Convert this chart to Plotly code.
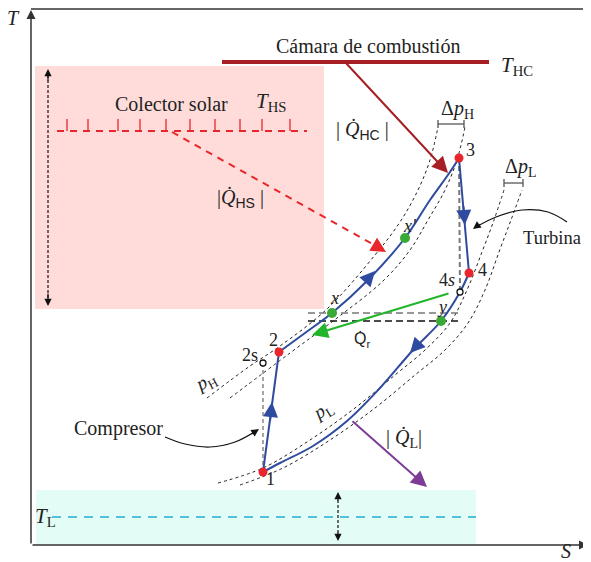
import plotly.graph_objects as go

# ---------------- data (S, T coordinates of the diagram) ----------------
# Brayton cycle branches
S_comp = [263, 279]
T_comp = [90, 210]
S_heat = [279, 305, 332, 368, 405, 430, 450, 459]
T_heat = [210, 229, 249, 282, 324, 362, 390, 404]
S_turb = [459, 469]
T_turb = [404, 289]
S_cool = [469, 460, 441, 413, 380, 347, 313, 280, 263]
T_cool = [289, 270, 241, 212, 174, 141, 116, 99, 90]

# state points
main_names = ["1", "2", "3", "4"]
main_S = [263, 279, 459, 469]
main_T = [90, 210, 404, 289]
regen_names = ["x", "x'", "y"]
regen_S = [332, 405, 441]
regen_T = [249, 324, 241]
iso_names = ["2s", "4s"]
iso_S = [263, 460]
iso_T = [199, 270]

# isobars (p_H band and p_L band)
H1_S = [207, 250, 280, 327, 375, 400, 418, 430, 438]
H1_T = [164, 196, 216, 253, 307, 340, 372, 402, 435]
H2_S = [230, 290, 337, 383, 410, 428, 445, 457, 465]
H2_T = [164, 209, 244, 281, 312, 342, 372, 402, 435]
L1_S = [218, 263, 310, 355, 395, 425, 450, 467, 482, 494, 504]
L1_T = [79, 94, 122, 154, 187, 212, 239, 272, 310, 342, 372]
L2_S = [240, 283, 330, 375, 415, 445, 468, 485, 499, 511, 522]
L2_T = [77, 94, 122, 154, 187, 212, 239, 272, 310, 342, 372]

# reservoirs
T_HC, S_HC = 500, [222, 489]
T_HS, S_HS = 431, [57, 307]
T_HS_ticks = [67, 88, 118, 140, 166, 190, 215, 240, 262, 290]
T_Lval, S_L = 45, [52, 476]
pink_box = dict(S=[35, 324], T=[253, 496])
cyan_box = dict(S=[36, 476], T=[18, 72])

BLUE = "#2f4b9f"
RED = "#e8262b"
DRED = "#a51f24"
GREEN = "#22b52a"
GDOT = "#3aa935"
PURP = "#7d3c98"
CYAN = "#4fc3d9"
SERIF = "Liberation Serif"
SANS = "Liberation Sans"

fig = go.Figure()

# background boxes
fig.add_shape(type="rect", x0=pink_box["S"][0], x1=pink_box["S"][1], y0=pink_box["T"][0], y1=pink_box["T"][1],
              fillcolor="#ffdcd9", line_width=0, layer="below")
fig.add_shape(type="rect", x0=cyan_box["S"][0], x1=cyan_box["S"][1], y0=cyan_box["T"][0], y1=cyan_box["T"][1],
              fillcolor="#e3fcf5", line_width=0, layer="below")

def line(S, T, color, width=1, dash="solid", shape="linear"):
    fig.add_trace(go.Scatter(x=S, y=T, mode="lines", line=dict(color=color, width=width, dash=dash, shape=shape),
                             hoverinfo="skip", showlegend=False))

# isobars
for S, T in [(H1_S, H1_T), (H2_S, H2_T), (L1_S, L1_T), (L2_S, L2_T)]:
    line(S, T, "#222", 1, "3px,3px", "spline")

# isentropic references and regenerator levels
line([iso_S[0], main_S[0]], [iso_T[0], main_T[0]], "#777", 1.3, "4px,3px")
line([main_S[2], iso_S[1]], [main_T[2], iso_T[1]], "#777", 2, "5px,3px")
line([308, 462], [regen_T[0], regen_T[0]], "#777", 1.5, "7px,4px")
line([308, 460], [regen_T[2], regen_T[2]], "#111", 1.3, "7px,4px")

# reservoir lines
line(S_HC, [T_HC, T_HC], DRED, 4)
line(S_HS, [T_HS, T_HS], RED, 2, "7px,6px")
for s in T_HS_ticks:
    line([s, s], [T_HS, T_HS + 12], RED, 1.3)
line(S_L, [T_Lval, T_Lval], CYAN, 2.2, "9px,7px")

# double arrows (dashed)
line([48, 48], [259, 490], "#111", 1.2, "3px,2px")
line([338, 338], [24, 67], "#111", 1.2, "3px,2px")

# cycle
line(S_comp, T_comp, BLUE, 2)
line(S_heat, T_heat, BLUE, 2, shape="spline")
line(S_turb, T_turb, BLUE, 2)
line(S_cool, T_cool, BLUE, 2, shape="spline")

# curved pointer lines
line([567, 548, 522, 496, 476], [340, 350, 352, 345, 335], "#111", 1.2, shape="spline")
line([165, 185, 210, 235, 256], [125, 118, 115, 120, 131], "#111", 1.2, shape="spline")

# axes frame (top border)
fig.add_shape(type="line", x0=31, x1=591, y0=553, y1=553, line=dict(color="#333", width=1.5))

# points
fig.add_trace(go.Scatter(x=main_S, y=main_T, mode="markers", marker=dict(color=RED, size=9),
                         hoverinfo="skip", showlegend=False))
fig.add_trace(go.Scatter(x=regen_S, y=regen_T, mode="markers", marker=dict(color=GDOT, size=10),
                         hoverinfo="skip", showlegend=False))
fig.add_trace(go.Scatter(x=iso_S, y=iso_T, mode="markers",
                         marker=dict(color="white", size=6, line=dict(color="#111", width=1.3)),
                         hoverinfo="skip", showlegend=False))

ann = []

def arrow(x, y, ax, ay, color, width=2, head=2, size=1.5):
    ann.append(dict(x=x, y=y, ax=ax, ay=ay, xref="x", yref="y", axref="x", ayref="y", text="",
                    showarrow=True, arrowhead=head, arrowsize=size, arrowwidth=width, arrowcolor=color,
                    standoff=0, startstandoff=0))

def text(x, y, t, size=19, family=SERIF, color="#222", angle=0, xanchor="center"):
    ann.append(dict(x=x, y=y, xref="x", yref="y", text=t, showarrow=False, textangle=angle,
                    font=dict(family=family, size=size, color=color), xanchor=xanchor, yanchor="middle"))

# axes arrows
arrow(31, 552, 31, 17, "#333", 1.5, 2, 1.2)
arrow(588, 17, 31, 17, "#333", 1.5, 2, 1.2)

# heat-flow arrows
arrow(448, 389, 345, 500, DRED, 2, 2, 1.6)
line([172, 376], [430, 316], RED, 2, "7px,6px")
arrow(386, 310, 376, 316, RED, 2, 2, 1.5)
arrow(312, 227, 450, 269, GREEN, 2, 2, 1.6)
arrow(427, 75, 351, 142, PURP, 2, 2, 1.6)

# flow-direction arrowheads on the cycle
arrow(272, 160, 270, 140, BLUE, 2, 2, 1.5)
arrow(375, 291, 366, 281, BLUE, 2, 2, 1.5)
arrow(464.8, 337, 463.4, 357, BLUE, 2, 2, 1.5)
arrow(410, 209, 421, 221, BLUE, 2, 2, 1.5)

# pointer arrowheads
arrow(473, 333, 481, 339, "#111", 1.2, 2, 1.3)
arrow(259, 133, 250, 127, "#111", 1.2, 2, 1.3)

# double arrowheads
arrow(48, 493, 48, 480, "#111", 1.2, 2, 1.2)
arrow(48, 256, 48, 270, "#111", 1.2, 2, 1.2)
arrow(338, 70, 338, 60, "#111", 1.2, 2, 1.2)
arrow(338, 21, 338, 31, "#111", 1.2, 2, 1.2)

# Δp brackets
for s0, s1, t in [(438, 464, 438), (504, 523, 379)]:
    fig.add_shape(type="line", x0=s0, x1=s1, y0=t, y1=t, line=dict(color="#555", width=1.3))
    fig.add_shape(type="line", x0=s0, x1=s0, y0=t - 4, y1=t + 4, line=dict(color="#555", width=1.3))
    fig.add_shape(type="line", x0=s1, x1=s1, y0=t - 4, y1=t + 4, line=dict(color="#555", width=1.3))

sans = lambda s: f"<span style='font-family:{SANS}'>{s}</span>"
Q = "<i>Q̇</i>"

text(13, 544, "<i>T</i>", 20)
text(566, 11, "<i>S</i>", 20)
text(368, 516, "Cámara de combustión", 20)
text(517, 496, "<i>T</i><sub>HC</sub>", 21)
text(171, 458, "Colector solar", 20)
text(271, 460, "<i>T</i><sub>HS</sub>", 21)
text(362, 432, f"| {Q}<sub>{sans('HC')}</sub> |", 20)
text(240, 364, f"|{Q}<sub>{sans('HS')}</sub> |", 20)
text(457, 453, "Δ<i>p</i><sub>H</sub>", 20)
text(520, 395, "Δ<i>p</i><sub>L</sub>", 20)
text(583, 324, "Turbina", 18.5, xanchor="right")
text(118, 134, "Compresor", 20)
text(362, 222, sans("Q̇<sub>r</sub>"), 16)
text(404, 124, f"| {Q}<sub>L</sub>|", 20)
text(45, 45, "<i>T</i><sub>L</sub>", 21)
text(206, 180, "<i>p</i><sub>H</sub>", 19, angle=-28)
text(323, 151, "<i>p</i><sub>L</sub>", 19, angle=-32)

label_pos = {"1": (270, 83), "2": (273, 222), "3": (470, 412), "4": (482, 292),
             "x": (334, 264), "x'": (410, 336), "y": (442, 255), "2s": (250, 207), "4s": (447, 282)}
for name in main_names:
    text(*label_pos[name], name, 18)
for name in regen_names:
    text(*label_pos[name], f"<i>{name}</i>", 18)
text(*label_pos["2s"], "2s", 18)
text(*label_pos["4s"], "4<i>s</i>", 18)

# figure offset by the page's 8px body margin: axes ranges are chosen so that
# one data unit equals one screen pixel and the diagram sits as in the reference
fig.update_layout(
    width=583, height=554, margin=dict(l=0, r=0, t=0, b=0),
    paper_bgcolor="white", plot_bgcolor="white",
    xaxis=dict(range=[8, 591], visible=False, fixedrange=True),
    yaxis=dict(range=[0, 554], visible=False, fixedrange=True),
    annotations=ann, showlegend=False,
)
fig.write_html("out.html")
